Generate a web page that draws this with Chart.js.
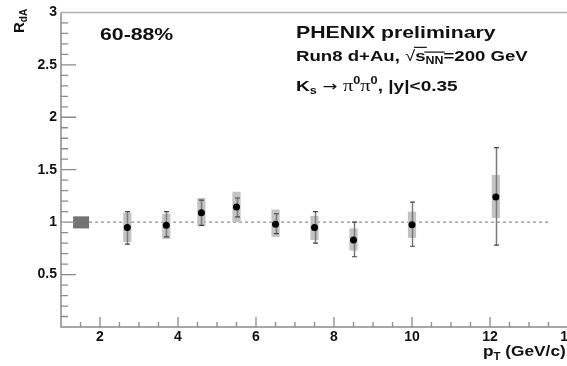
<!DOCTYPE html>
<html>
<head>
<meta charset="utf-8">
<script src="https://cdn.jsdelivr.net/npm/chart.js@4.4.0/dist/chart.umd.min.js"></script>
<style>
html, body { margin: 0; padding: 0; background: #fff; overflow: hidden; }
#wrap { width: 620px; height: 366px; }
</style>
</head>
<body>
<div id="wrap"><canvas id="rdA" width="620" height="366"></canvas></div>
<script>
// Ks -> pi0 pi0 R_dA, d+Au 60-88%
var pt       = [2.7, 3.7, 4.6, 5.5, 6.5, 7.5, 8.5, 10.0, 12.15];
var rdA      = [0.95, 0.97, 1.09, 1.145, 0.98, 0.95, 0.83, 0.975, 1.24];
var statLow  = [0.79, 0.86, 0.97, 1.05, 0.89, 0.80, 0.67, 0.77, 0.78];
var statHigh = [1.10, 1.10, 1.21, 1.23, 1.08, 1.10, 1.00, 1.19, 1.71];
var sysLow   = [0.81, 0.84, 0.96, 1.00, 0.86, 0.83, 0.73, 0.85, 1.04];
var sysHigh  = [1.09, 1.08, 1.23, 1.29, 1.12, 1.06, 0.94, 1.10, 1.45];
var normBox  = [0.94, 1.055];   // global scale uncertainty around 1
var xTicks = [2, 4, 6, 8, 10, 12, 14];
var yTicks = [0.5, 1, 1.5, 2, 2.5, 3];

var FONT = '"Liberation Sans", Arial, sans-serif';

// draw a list of text pieces, stretched sideways by sx
function richText(ctx, x, y, parts, sx) {
	ctx.save();
	ctx.translate(x, y);
	ctx.scale(sx, 1);
	var cx = 0;
	parts.forEach(function(p) {
		ctx.font = (p.w || 'bold') + ' ' + p.s + 'px ' + (p.f || FONT);
		ctx.fillText(p.t, cx, p.dy || 0);
		var w = ctx.measureText(p.t).width;
		if (p.over) {
			ctx.fillRect(cx - 1, -p.s * 0.95, w + 2, 1.2);
		}
		cx += w;
	});
	ctx.restore();
}

var errPlugin = {
	id: 'errors',
	beforeDatasetsDraw: function(chart) {
		var ctx = chart.ctx, xs = chart.scales.x, ys = chart.scales.y;
		ctx.save();
		// reference line at 1
		ctx.strokeStyle = '#888';
		ctx.lineWidth = 1.2;
		ctx.setLineDash([3, 3]);
		ctx.beginPath();
		ctx.moveTo(xs.getPixelForValue(1.72), ys.getPixelForValue(1));
		ctx.lineTo(xs.getPixelForValue(13.5), ys.getPixelForValue(1));
		ctx.stroke();
		ctx.setLineDash([]);
		// normalisation box
		ctx.fillStyle = '#737373';
		var l = xs.getPixelForValue(1.31), r = xs.getPixelForValue(1.72);
		var t = ys.getPixelForValue(normBox[1]), b = ys.getPixelForValue(normBox[0]);
		ctx.fillRect(l, t, r - l, b - t);
		// systematic boxes
		ctx.fillStyle = '#c2c2c2';
		pt.forEach(function(v, i) {
			var x0 = xs.getPixelForValue(v - 0.105), x1 = xs.getPixelForValue(v + 0.105);
			var y0 = ys.getPixelForValue(sysHigh[i]), y1 = ys.getPixelForValue(sysLow[i]);
			ctx.fillRect(x0, y0, x1 - x0, y1 - y0);
		});
		// statistical bars
		pt.forEach(function(v, i) {
			var x = Math.round(xs.getPixelForValue(v)) + 0.5;
			var y0 = ys.getPixelForValue(statHigh[i]), y1 = ys.getPixelForValue(statLow[i]);
			ctx.strokeStyle = '#7a7a7a';
			ctx.lineWidth = 1.5;
			ctx.beginPath();
			ctx.moveTo(x, y0);
			ctx.lineTo(x, y1);
			ctx.stroke();
			ctx.strokeStyle = '#444';
			ctx.lineWidth = 1.2;
			ctx.beginPath();
			ctx.moveTo(x - 2.5, y0); ctx.lineTo(x + 2.5, y0);
			ctx.moveTo(x - 2.5, y1); ctx.lineTo(x + 2.5, y1);
			ctx.stroke();
		});
		ctx.restore();
	},
	afterDraw: function(chart) {
		var ctx = chart.ctx, xs = chart.scales.x, ys = chart.scales.y, a = chart.chartArea;
		ctx.save();
		// frame
		ctx.strokeStyle = '#8a8a8a';
		ctx.lineWidth = 1.5;
		ctx.beginPath();
		ctx.moveTo(a.left, a.top);
		ctx.lineTo(a.left, a.bottom);
		ctx.lineTo(a.right, a.bottom);
		ctx.stroke();
		ctx.strokeStyle = '#b0b0b0';
		ctx.beginPath();
		ctx.moveTo(a.left, a.top);
		ctx.lineTo(a.right, a.top);
		ctx.stroke();
		// ticks
		ctx.strokeStyle = '#8a8a8a';
		ctx.lineWidth = 1.3;
		ctx.beginPath();
		for (var k = 1; k < 30; k++) {
			var yp = ys.getPixelForValue(k / 10);
			var len = (k % 5 === 0) ? 15 : 7;
			ctx.moveTo(a.left, yp);
			ctx.lineTo(a.left + len, yp);
		}
		for (var j = 3; j <= 29; j++) {
			var xv = j / 2, xp = xs.getPixelForValue(xv);
			var ln = (xv % 2 === 0) ? 10 : 5;
			ctx.moveTo(xp, a.bottom);
			ctx.lineTo(xp, a.bottom - ln);
		}
		ctx.stroke();

		ctx.fillStyle = '#111';
		ctx.textBaseline = 'alphabetic';
		richText(ctx, 100, 40, [{t: '60-88%', s: 17}], 1.25);
		richText(ctx, 296, 38, [{t: 'PHENIX preliminary', s: 17}], 1.25);
		richText(ctx, 296, 61, [
			{t: 'Run8 d+Au, ', s: 15},
			{t: '\u221A', s: 15, w: 'normal'},
			{t: 's', s: 15, over: true},
			{t: 'NN', s: 10, dy: 3, over: true},
			{t: '=200 GeV', s: 15}
		], 1.24);
		richText(ctx, 296, 91, [
			{t: 'K', s: 15},
			{t: 's', s: 10, dy: 3},
			{t: ' \u2192 ', s: 14, w: 'normal', f: '"DejaVu Sans", sans-serif'},
			{t: '\u03C0', s: 16, w: 'normal', f: '"Liberation Serif", serif'},
			{t: '0', s: 10, dy: -7},
			{t: '\u03C0', s: 16, w: 'normal', f: '"Liberation Serif", serif'},
			{t: '0', s: 10, dy: -7},
			{t: ', |y|<0.35', s: 15}
		], 1.27);

		// axis titles
		richText(ctx, 483, 356, [
			{t: 'p', s: 15},
			{t: 'T', s: 10, dy: 4},
			{t: ' (GeV/c)', s: 15}
		], 1.15);
		ctx.save();
		ctx.translate(24, 33);
		ctx.rotate(-Math.PI / 2);
		richText(ctx, 0, 0, [
			{t: 'R', s: 15},
			{t: 'dA', s: 10, dy: 3}
		], 1.0);
		ctx.restore();
		ctx.restore();
	}
};

new Chart('rdA', {
	type: 'scatter',
	data: {
		datasets: [{
			data: pt.map(function(v, i) { return {x: v, y: rdA[i]}; }),
			backgroundColor: '#000',
			borderWidth: 0,
			pointRadius: 3.5,
			pointHoverRadius: 3.5
		}]
	},
	options: {
		responsive: false,
		animation: false,
		layout: { padding: { left: 0, top: 9, right: 13, bottom: 0 } },
		plugins: { legend: { display: false }, tooltip: { enabled: false } },
		scales: {
			x: {
				type: 'linear', min: 1, max: 15,
				grid: { display: false, drawTicks: false },
				border: { display: false },
				afterBuildTicks: function(s) { s.ticks = xTicks.map(function(v) { return {value: v}; }); },
				afterFit: function(s) { s.height = 39; },
				ticks: { color: '#111', padding: 2, maxRotation: 0, autoSkip: false,
					callback: function(v) { return String(v); },
					font: { family: FONT, weight: 'bold', size: 14 } }
			},
			y: {
				min: 0, max: 3,
				grid: { display: false, drawTicks: false },
				border: { display: false },
				afterBuildTicks: function(s) { s.ticks = yTicks.map(function(v) { return {value: v}; }); },
				afterFit: function(s) { s.width = 61; },
				ticks: { color: '#111', padding: 4, autoSkip: false,
					callback: function(v) { return String(v); },
					font: { family: FONT, weight: 'bold', size: 14 } }
			}
		}
	},
	plugins: [errPlugin]
});
</script>
</body>
</html>
